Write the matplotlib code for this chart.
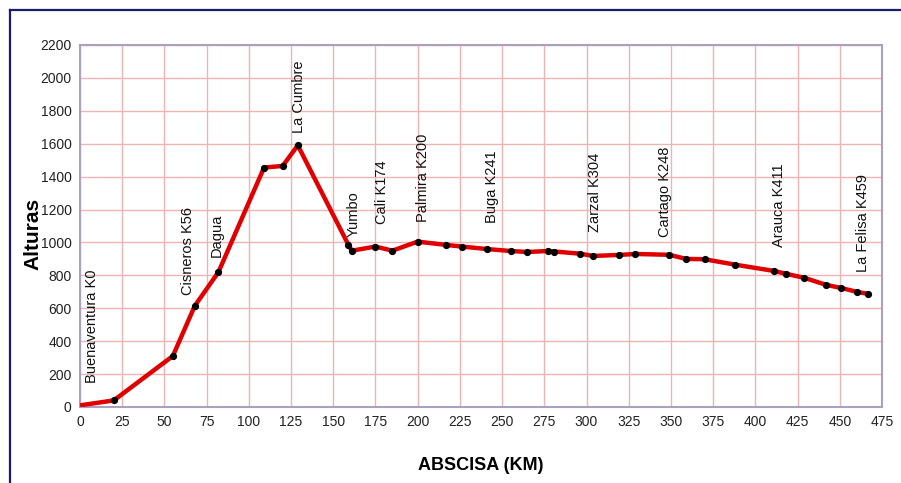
import matplotlib
matplotlib.use("Agg")
import matplotlib.pyplot as plt
from matplotlib.lines import Line2D

# Road profile: distance along the route (km) and altitude (m)
abscisa_km = [0, 20, 55, 68, 82, 109, 120, 129, 159, 161, 175, 185, 200, 217,
              226, 241, 255, 265, 277, 281, 296, 304, 319, 329, 349, 359, 370,
              388, 411, 418, 429, 442, 451, 460, 467]
alturas = [10, 40, 310, 615, 820, 1455, 1465, 1590, 985, 950, 975, 950, 1005,
           985, 975, 960, 948, 942, 948, 945, 932, 918, 924, 930, 925, 900, 898,
           865, 827, 810, 785, 742, 723, 700, 687]

# Place names along the route
lugares = ["Buenaventura K0", "Cisneros K56", "Dagua", "La Cumbre", "Yumbo",
           "Cali K174", "Palmira K200", "Buga K241", "Zarzal K304",
           "Cartago K248", "Arauca K411", "La Felisa K459"]
lugares_km = [7, 64, 81, 130, 162, 179, 203, 244, 305, 346.5, 414, 464]
lugares_base = [146, 680, 912, 1666, 1033, 1112, 1125, 1118, 1064, 1033, 973, 821]

x_ticks = list(range(0, 476, 25))
y_ticks = list(range(0, 2201, 200))

plt.rcParams["font.family"] = ["Liberation Sans", "DejaVu Sans"]

fig = plt.figure(figsize=(9.01, 4.83), dpi=100)
ax = fig.add_axes([80 / 901, 76 / 483, 802 / 901, 362 / 483])

ax.plot(abscisa_km, alturas, color="#e00000", lw=3.2, solid_capstyle="butt",
        zorder=3)
ax.plot(abscisa_km[1:], alturas[1:], linestyle="none", marker="o",
        markersize=4.2, color="black", zorder=4)

for name, km, base in zip(lugares, lugares_km, lugares_base):
    ax.text(km, base, name, rotation=90, ha="center", va="bottom",
            fontsize=10.5, color="#111111", zorder=5)

ax.set_xlim(0, 475)
ax.set_ylim(0, 2200)
ax.set_xticks(x_ticks)
ax.set_yticks(y_ticks)
ax.tick_params(axis="both", length=0, labelsize=10, colors="#222222")
ax.tick_params(axis="x", pad=6)
ax.tick_params(axis="y", pad=6)
ax.grid(True, color="#eeb4b4", lw=1.0, zorder=0)
ax.set_axisbelow(True)
for side in ax.spines.values():
    side.set_color("#aaa2bc")
    side.set_linewidth(1.5)

ax.set_ylabel("Alturas", fontsize=15, fontweight="bold")
ax.yaxis.set_label_coords(-0.047, 0.478)
ax.set_xlabel("ABSCISA (KM)", fontsize=13, fontweight="bold", labelpad=20)

# Outer frame lines (top and left)
fig.add_artist(Line2D([10 / 901, 1], [1 - 10 / 483, 1 - 10 / 483],
                      transform=fig.transFigure, color="#1a1a6e", lw=1.6))
fig.add_artist(Line2D([10 / 901, 10 / 901], [0, 1 - 10 / 483],
                      transform=fig.transFigure, color="#1a1a6e", lw=1.6))

fig.savefig("out.png", dpi=100, facecolor="white")
